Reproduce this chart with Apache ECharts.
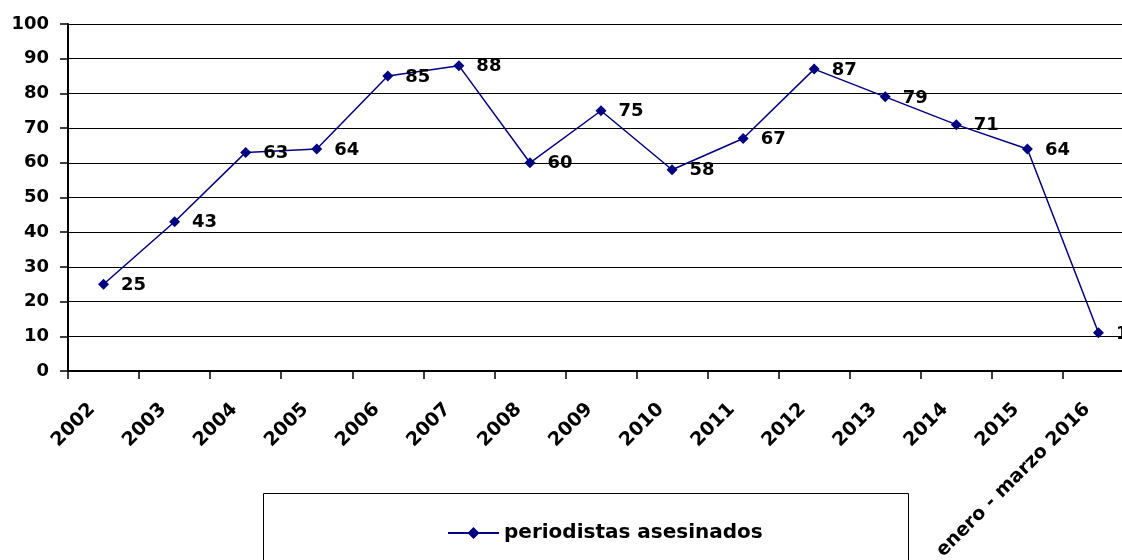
<!DOCTYPE html>
<html><head><meta charset="utf-8">
<script src="https://cdn.jsdelivr.net/npm/echarts@6/dist/echarts.min.js"></script>
<style>html,body{margin:0;padding:0;background:#fff}#c{width:1122px;height:560px}</style>
</head><body><div id="c"></div>
<script>
var categories = ['2002','2003','2004','2005','2006','2007','2008','2009','2010','2011','2012','2013','2014','2015','enero - marzo 2016'];
var values = [25,43,63,64,85,88,60,75,58,67,87,79,71,64,11];
var seriesName = 'periodistas asesinados';
var FONT = '"DejaVu Sans", sans-serif';
var chart = echarts.init(document.getElementById('c'));
chart.setOption({
  animation: false,
  backgroundColor: '#fff',
  grid: {left: 68, top: 24, width: 1066, height: 347, containLabel: false, outerBoundsMode: 'none'},
  xAxis: {
    type: 'category', data: categories, boundaryGap: true,
    axisLine: {lineStyle: {color: '#000', width: 2}},
    axisTick: {show: true, length: 8, lineStyle: {color: '#000', width: 1.5}},
    axisLabel: {rotate: 45, color: '#000', fontFamily: FONT, fontWeight: 'bold', fontSize: 19, margin: 24, interval: 0, padding: [0, 16, 0, 0]},
    splitLine: {show: false}
  },
  yAxis: {
    type: 'value', min: 0, max: 100, interval: 10,
    axisLine: {show: true, lineStyle: {color: '#000', width: 2}},
    axisTick: {show: true, length: 8, lineStyle: {color: '#000', width: 1.5}},
    axisLabel: {color: '#000', fontFamily: FONT, fontWeight: 'bold', fontSize: 18, margin: 19},
    splitLine: {show: true, lineStyle: {color: '#000', width: 1.2}}
  },
  legend: {
    left: 442, top: 518, itemWidth: 51, itemHeight: 15, itemGap: 4,
    textStyle: {color: '#000', fontFamily: FONT, fontWeight: 'bold', fontSize: 20},
    data: [seriesName]
  },
  graphic: [{type: 'rect', shape: {x: 263.5, y: 493.5, width: 645, height: 80}, style: {fill: 'none', stroke: '#000', lineWidth: 1}, silent: true}],
  series: [{
    name: seriesName, type: 'line', data: values,
    symbol: 'diamond', symbolSize: 11,
    lineStyle: {color: '#000080', width: 1.5},
    itemStyle: {color: '#000080'},
    label: {show: true, position: 'right', distance: 12, offset: [0, 1], color: '#000', fontFamily: FONT, fontWeight: 'bold', fontSize: 18}
  }]
});
</script></body></html>
